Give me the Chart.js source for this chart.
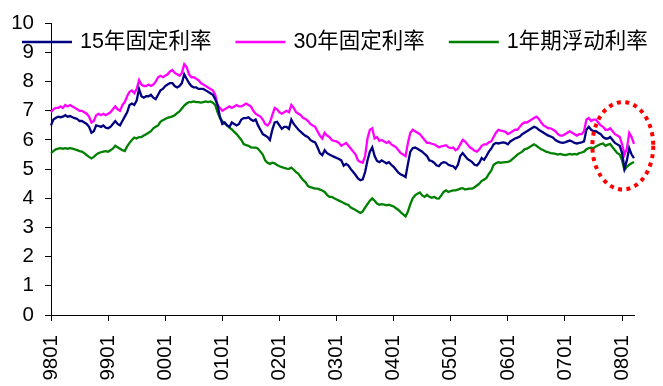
<!DOCTYPE html>
<html>
<head>
<meta charset="utf-8">
<script src="https://cdn.jsdelivr.net/npm/chart.js@4/dist/chart.umd.min.js"></script>
<style>
  html, body { margin: 0; padding: 0; background: #fff; }
  #c { display: block; }
</style>
</head>
<body>
<canvas id="c" width="663" height="386"></canvas>
<script>
// ---- tick labels (one per year, January) ----
const yearTickLabels = ['9801','9901','0001','0101','0201','0301','0401','0501','0601','0701','0801'];

// ---- categories: half-month periods, Jan 1998 .. mid Mar 2008 ----
const periods = [];
(function () {
  const years = ['98','99','00','01','02','03','04','05','06','07','08'];
  const months = ['01','02','03','04','05','06','07','08','09','10','11','12'];
  for (const y of years) for (const m of months) for (const h of ['a','b']) {
    if (periods.length < 246) periods.push(y + m + h);
  }
})();

// ---- series names ----
const seriesNames = ['15年固定利率', '30年固定利率', '1年期浮动利率'];

// ---- 15-year fixed rate (%) ----
const rate15 = [
  6.5, 6.7, 6.75, 6.8, 6.78, 6.8, 6.85, 6.8, 6.82, 6.78, 6.75, 6.72, 6.65, 6.65, 6.6, 6.55, 6.45, 6.25, 6.3, 6.5, 6.48, 6.45, 6.5, 6.42,
  6.4, 6.45, 6.55, 6.65, 6.55, 6.5, 6.65, 6.8, 6.95, 7.2, 7.25, 7.2, 7.35, 7.75, 7.5, 7.45, 7.5, 7.5, 7.55, 7.45, 7.4, 7.55, 7.7, 7.75,
  7.85, 7.9, 7.95, 7.95, 7.85, 7.8, 7.85, 7.95, 8.25, 8.1, 7.95, 7.85, 7.8, 7.8, 7.75, 7.75, 7.75, 7.7, 7.65, 7.6, 7.55, 7.4, 7.2, 6.8,
  6.55, 6.6, 6.5, 6.45, 6.6, 6.55, 6.5, 6.55, 6.7, 6.75, 6.75, 6.78, 6.7, 6.65, 6.7, 6.5, 6.35, 6.2, 6.15, 6.1, 6.0, 6.35, 6.6, 6.62,
  6.5, 6.38, 6.45, 6.45, 6.38, 6.7, 6.55, 6.45, 6.35, 6.28, 6.2, 6.14, 6.1, 6.0, 5.95, 5.92, 5.75, 5.55, 5.48, 5.65, 5.55, 5.5, 5.46, 5.42,
  5.38, 5.35, 5.3, 5.12, 5.18, 5.12, 5.0, 4.9, 4.8, 4.68, 4.62, 4.65, 4.9, 5.3, 5.6, 5.75, 5.45, 5.28, 5.24, 5.3, 5.25, 5.2, 5.24, 5.15,
  5.08, 4.98, 4.88, 4.82, 4.78, 4.73, 5.18, 5.6, 5.72, 5.74, 5.7, 5.65, 5.6, 5.52, 5.45, 5.3, 5.28, 5.22, 5.13, 5.1, 5.2, 5.24, 5.22, 5.15,
  5.12, 5.1, 5.02, 5.15, 5.45, 5.55, 5.45, 5.35, 5.3, 5.24, 5.15, 5.13, 5.22, 5.38, 5.32, 5.45, 5.6, 5.7, 5.85, 5.9, 5.88, 5.9, 5.92, 5.9,
  5.85, 5.95, 6.0, 6.05, 6.08, 6.12, 6.2, 6.25, 6.3, 6.35, 6.4, 6.45, 6.42, 6.35, 6.3, 6.25, 6.2, 6.15, 6.12, 6.08, 6.0, 5.95, 5.92, 5.9,
  5.92, 5.95, 5.98, 5.95, 5.9, 5.88, 5.9, 5.92, 5.95, 6.35, 6.45, 6.35, 6.3, 6.3, 6.25, 6.2, 6.1, 6.05, 6.05, 6.1, 6.0, 5.9, 5.85, 5.8,
  5.55, 5.02, 5.3, 5.72, 5.5, 5.38
];

// ---- 30-year fixed rate (%) ----
const rate30 = [
  6.95, 7.05, 7.1, 7.1, 7.15, 7.1, 7.2, 7.15, 7.2, 7.15, 7.1, 7.05, 7.0, 7.0, 6.95, 6.9, 6.8, 6.6, 6.65, 6.85, 6.9, 6.85, 6.9, 6.85,
  6.9, 6.95, 7.05, 7.15, 7.05, 7.0, 7.2, 7.3, 7.5, 7.65, 7.7, 7.6, 7.75, 8.05, 7.9, 7.85, 7.85, 7.9, 7.85, 7.9, 8.0, 8.15, 8.2, 8.15,
  8.2, 8.25, 8.35, 8.4, 8.3, 8.25, 8.2, 8.3, 8.6, 8.5, 8.25, 8.15, 8.15, 8.1, 8.05, 7.95, 7.9, 7.85, 7.8, 7.75, 7.7, 7.55, 7.2, 7.1,
  7.0, 7.05, 7.1, 7.15, 7.1, 7.15, 7.2, 7.15, 7.15, 7.2, 7.25, 7.2, 7.15, 7.0, 6.9, 6.85, 6.8, 6.7, 6.55, 6.5, 6.6, 6.85, 7.1, 7.05,
  6.95, 6.9, 6.95, 7.0, 6.95, 7.2, 7.1, 6.95, 6.9, 6.85, 6.75, 6.72, 6.65, 6.55, 6.5, 6.45, 6.3, 6.15, 6.05, 6.25, 6.15, 6.1, 6.0, 5.97,
  5.95, 5.9, 5.8, 5.85, 5.9, 5.8, 5.7, 5.6, 5.5, 5.3, 5.25, 5.22, 5.45, 6.05, 6.35, 6.4, 6.05, 6.1, 5.97, 6.0, 5.95, 5.9, 5.95, 5.85,
  5.8, 5.75, 5.65, 5.55, 5.5, 5.45, 5.9, 6.25, 6.35, 6.3, 6.25, 6.2, 6.1, 6.0, 5.9, 5.9, 5.87, 5.85, 5.8, 5.75, 5.78, 5.8, 5.82, 5.75,
  5.72, 5.74, 5.65, 5.7, 5.85, 6.0, 5.95, 5.85, 5.75, 5.7, 5.63, 5.6, 5.68, 5.8, 5.85, 5.85, 5.92, 5.95, 6.1, 6.25, 6.35, 6.32, 6.3, 6.28,
  6.2, 6.25, 6.3, 6.35, 6.35, 6.45, 6.55, 6.6, 6.6, 6.65, 6.7, 6.75, 6.8, 6.72, 6.6, 6.5, 6.45, 6.4, 6.4, 6.35, 6.3, 6.2, 6.15, 6.15,
  6.2, 6.25, 6.3, 6.25, 6.2, 6.15, 6.2, 6.2, 6.3, 6.7, 6.75, 6.65, 6.7, 6.7, 6.6, 6.5, 6.45, 6.35, 6.35, 6.4, 6.3, 6.2, 6.15, 6.1,
  5.85, 5.5, 5.7, 6.24, 6.1, 5.87
];

// ---- 1-year adjustable rate (%) ----
const rate1 = [
  5.55, 5.62, 5.68, 5.7, 5.72, 5.7, 5.72, 5.7, 5.72, 5.7, 5.68, 5.65, 5.62, 5.6, 5.55, 5.48, 5.42, 5.37, 5.42, 5.5, 5.55, 5.58, 5.6, 5.62,
  5.6, 5.65, 5.7, 5.8, 5.75, 5.7, 5.65, 5.62, 5.78, 5.9, 6.0, 6.08, 6.05, 6.1, 6.1, 6.15, 6.2, 6.25, 6.3, 6.4, 6.45, 6.5, 6.62, 6.68,
  6.72, 6.76, 6.78, 6.81, 6.85, 6.92, 6.98, 7.08, 7.18, 7.25, 7.3, 7.3, 7.32, 7.3, 7.3, 7.28, 7.3, 7.32, 7.3, 7.32, 7.28, 7.2, 6.95, 6.75,
  6.65, 6.58, 6.5, 6.42, 6.36, 6.28, 6.2, 6.1, 6.0, 5.86, 5.82, 5.8, 5.75, 5.74, 5.74, 5.7, 5.6, 5.5, 5.3, 5.22, 5.18, 5.22, 5.2, 5.14,
  5.1, 5.07, 5.04, 5.02, 5.01, 5.05, 4.98, 4.9, 4.84, 4.72, 4.62, 4.55, 4.42, 4.38, 4.36, 4.33, 4.33, 4.3, 4.27, 4.22, 4.12, 4.05, 4.05, 4.0,
  3.96, 3.92, 3.88, 3.84, 3.8, 3.77, 3.68, 3.64, 3.6, 3.55, 3.5, 3.55, 3.68, 3.8, 3.92, 4.0, 3.92, 3.82, 3.78, 3.8, 3.78, 3.76, 3.78, 3.75,
  3.72, 3.66, 3.6, 3.52, 3.45, 3.38, 3.55, 3.8, 4.0, 4.1, 4.16, 4.2, 4.1, 4.05, 4.12, 4.05, 4.02, 4.05, 4.0, 3.99, 4.1, 4.22, 4.27, 4.22,
  4.25, 4.27, 4.27, 4.3, 4.33, 4.35, 4.3, 4.32, 4.33, 4.33, 4.38, 4.44, 4.5, 4.6, 4.64, 4.7, 4.84, 4.95, 5.15, 5.2, 5.24, 5.22, 5.23, 5.24,
  5.25, 5.28, 5.35, 5.42, 5.5, 5.55, 5.6, 5.68, 5.7, 5.75, 5.8, 5.85, 5.8, 5.74, 5.68, 5.65, 5.6, 5.58, 5.55, 5.54, 5.52, 5.5, 5.52, 5.5,
  5.48, 5.5, 5.52, 5.5, 5.52, 5.5, 5.55, 5.57, 5.6, 5.68, 5.72, 5.74, 5.72, 5.78, 5.82, 5.86, 5.88, 5.8, 5.84, 5.86, 5.75, 5.65, 5.55, 5.5,
  5.3, 4.97, 5.08, 5.15, 5.2, 5.25
];

// ---- highlighted region (red dotted ellipse), in data units ----
const highlight = { center: 240.3, value: 5.8, halfSpan: 12.8, halfValue: 1.5 };

const FONT = '"Liberation Sans", Arial, "Noto Sans CJK SC", sans-serif';

const legendPlugin = {
  id: 'manualLegend',
  afterDraw(chart) {
    const ctx = chart.ctx;
    ctx.save();
    ctx.font = '21.5px ' + FONT;
    ctx.textBaseline = 'middle';
    ctx.textAlign = 'left';
    let x = 22;
    const y = 42;
    chart.data.datasets.forEach(ds => {
      ctx.strokeStyle = ds.borderColor;
      ctx.lineWidth = 2.5;
      ctx.beginPath();
      ctx.moveTo(x, y);
      ctx.lineTo(x + 50, y);
      ctx.stroke();
      ctx.fillStyle = '#000';
      ctx.fillText(ds.label, x + 58, y);
      x += 58 + ctx.measureText(ds.label).width + 24;
    });
    ctx.restore();
  }
};

const ellipsePlugin = {
  id: 'ellipseMark',
  afterDraw(chart) {
    const xs = chart.scales.x, ys = chart.scales.y;
    const cx = xs.getPixelForValue(highlight.center);
    const cy = ys.getPixelForValue(highlight.value);
    const rx = xs.getPixelForValue(highlight.center + highlight.halfSpan) - cx;
    const ry = cy - ys.getPixelForValue(highlight.value + highlight.halfValue);
    const ctx = chart.ctx;
    ctx.save();
    ctx.strokeStyle = '#FF0000';
    ctx.lineWidth = 4;
    ctx.setLineDash([4, 4.5]);
    ctx.beginPath();
    ctx.ellipse(cx, cy, rx, ry, 0, 0, Math.PI * 2);
    ctx.stroke();
    ctx.restore();
  }
};

new Chart(document.getElementById('c'), {
  type: 'line',
  data: {
    labels: periods,
    datasets: [
      { label: seriesNames[0], data: rate15, borderColor: '#000080', backgroundColor: '#000080' },
      { label: seriesNames[1], data: rate30, borderColor: '#FF00FF', backgroundColor: '#FF00FF' },
      { label: seriesNames[2], data: rate1, borderColor: '#008000', backgroundColor: '#008000' }
    ]
  },
  options: {
    responsive: false,
    animation: false,
    layout: { padding: { top: 18, right: 29, left: 0, bottom: 0 } },
    elements: {
      point: { radius: 0, hoverRadius: 0 },
      line: { tension: 0, borderWidth: 2.3, fill: false }
    },
    plugins: { legend: { display: false }, tooltip: { enabled: false } },
    scales: {
      x: {
        type: 'category',
        offset: false,
        grid: { display: true, drawOnChartArea: false, drawTicks: true, tickLength: 6, color: '#000', lineWidth: 1 },
        border: { display: true, color: '#000', width: 1 },
        afterBuildTicks: (scale) => {
          scale.ticks = scale.ticks.filter(t => periods[t.value] && periods[t.value].endsWith('01a'));
        },
        ticks: {
          autoSkip: false,
          maxRotation: 90,
          minRotation: 90,
          padding: 14,
          color: '#000',
          font: { family: FONT, size: 20.5 },
          callback: (value) => yearTickLabels[yearTickLabels.indexOf(periods[value].slice(0, 4))]
        },
        afterFit: (scale) => { scale.height = 71; }
      },
      y: {
        min: 0,
        max: 10,
        grid: { display: true, drawOnChartArea: false, drawTicks: true, tickLength: 6, color: '#000', lineWidth: 1 },
        border: { display: true, color: '#000', width: 1 },
        ticks: {
          stepSize: 1,
          padding: 11,
          color: '#000',
          font: { family: FONT, size: 20.5 }
        },
        afterFit: (scale) => { scale.width = 51; }
      }
    }
  },
  plugins: [legendPlugin, ellipsePlugin]
});
</script>
</body>
</html>
